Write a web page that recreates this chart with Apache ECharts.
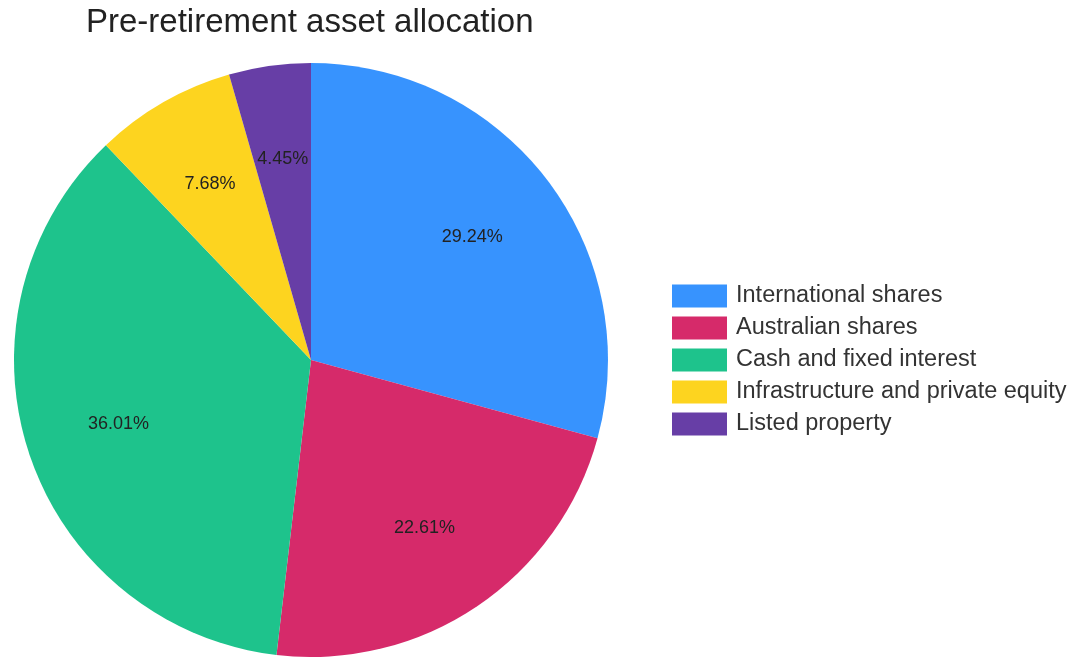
<!DOCTYPE html>
<html>
<head>
<meta charset="utf-8">
<script src="https://cdn.jsdelivr.net/npm/echarts@6/dist/echarts.min.js"></script>
<style>
  html, body { margin: 0; padding: 0; background: #fff; }
  #chart { width: 1082px; height: 657px; }
</style>
</head>
<body>
<div id="chart"></div>
<script>
// Asset classes and their share of the portfolio (%)
const categories = [
  'International shares',
  'Australian shares',
  'Cash and fixed interest',
  'Infrastructure and private equity',
  'Listed property'
];
const shares = [29.24, 22.61, 36.01, 7.68, 4.45];
const colors = ['#3793FE', '#D62A6A', '#1EC38C', '#FDD41F', '#673EA6'];

const chart = echarts.init(document.getElementById('chart'), null, { renderer: 'canvas' });

const pieData = categories.map((name, i) => ({
  name,
  value: shares[i],
  itemStyle: { color: colors[i] }
}));

const CX = 311, CY = 360, R = 297;
const LABEL_R = 200;
const FONT = 'Liberation Sans, Arial, sans-serif';

chart.setOption({
  animation: false,
  title: {
    text: 'Pre-retirement asset allocation',
    left: 81,
    top: 1,
    textStyle: {
      fontFamily: FONT,
      fontSize: 33,
      fontWeight: 'normal',
      color: '#222'
    }
  },
  legend: {
    orient: 'vertical',
    left: 667,
    top: 279,
    itemWidth: 55,
    itemHeight: 23,
    itemGap: 8,
    icon: 'rect',
    data: categories,
    textStyle: {
      fontFamily: FONT,
      fontSize: 23.5,
      lineHeight: 23,
      color: '#333',
      padding: [0, 0, 0, 4]
    },
    selectedMode: false
  },
  series: [
    {
      // the slices
      type: 'pie',
      center: [CX, CY],
      radius: [0, R],
      startAngle: 90,
      clockwise: true,
      label: { show: false },
      labelLine: { show: false },
      emphasis: { disabled: true },
      data: pieData
    },
    {
      // percentage labels placed at two thirds of the radius
      type: 'pie',
      center: [CX, CY],
      radius: [0, LABEL_R * 2],
      startAngle: 90,
      clockwise: true,
      silent: true,
      itemStyle: { color: 'rgba(0,0,0,0)' },
      label: {
        show: true,
        position: 'inside',
        fontFamily: FONT,
        fontSize: 18,
        color: '#222',
        formatter: p => p.value.toFixed(2) + '%'
      },
      labelLine: { show: false },
      emphasis: { disabled: true },
      data: categories.map((name, i) => ({ name, value: shares[i] }))
    }
  ]
});
</script>
</body>
</html>
